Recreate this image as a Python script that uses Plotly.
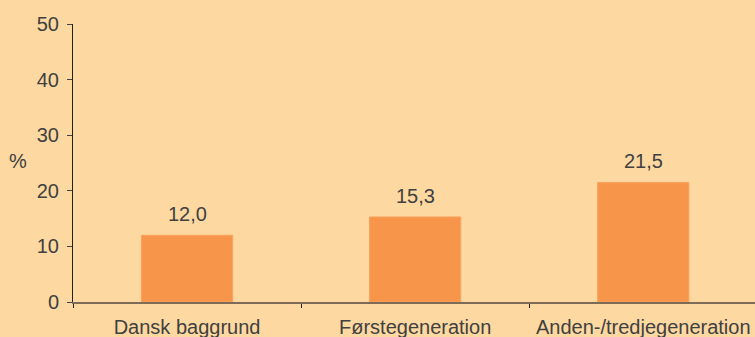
import plotly.graph_objects as go

categories = ["Dansk baggrund", "Førstegeneration", "Anden-/tredjegeneration"]
values = [12.0, 15.3, 21.5]
value_labels = ["12,0", "15,3", "21,5"]
y_ticks = [0, 10, 20, 30, 40, 50]

BG = "#FDD9A1"
BAR = "#F7954A"
TXT = "#404040"
FONT = "Liberation Sans, Arial, sans-serif"
FS = 20

fig = go.Figure()
fig.add_trace(go.Bar(
    x=categories, y=values, width=0.4,
    marker=dict(color=BAR, line=dict(color="#F9A35E", width=1)),
    hoverinfo="skip",
))

for c, v, t in zip(categories, values, value_labels):
    fig.add_annotation(x=c, y=v, text=t, showarrow=False, yanchor="bottom",
                       yshift=8, font=dict(family=FONT, size=FS, color=TXT))

fig.add_annotation(xref="paper", yref="y", x=-0.0806, y=25.3, text="%", showarrow=False,
                   xanchor="center", yanchor="middle",
                   font=dict(family=FONT, size=FS, color=TXT))

fig.update_layout(
    width=755, height=337,
    margin=dict(l=73, r=0, t=24, b=35, autoexpand=False),
    paper_bgcolor=BG, plot_bgcolor=BG,
    showlegend=False,
    font=dict(family=FONT, size=FS, color=TXT),
    bargap=0.6,
)
fig.update_xaxes(
    type="category", range=[-0.5, 2.49], automargin=False,
    tickson="boundaries", ticks="outside", ticklen=4, tickcolor="#222", tickwidth=1,
    ticklabelstandoff=6,
    showline=True, linecolor="#7d6a57", linewidth=2,
    showgrid=False, zeroline=False,
    tickfont=dict(family=FONT, size=FS, color=TXT),
)
fig.update_yaxes(
    range=[0, 50], tickvals=y_ticks, ticktext=[str(v) for v in y_ticks],
    automargin=False,
    ticks="outside", ticklen=5, tickcolor="#444", tickwidth=1,
    ticklabelstandoff=4,
    showline=True, linecolor="#222", linewidth=1,
    showgrid=False, zeroline=False,
    tickfont=dict(family=FONT, size=FS, color=TXT),
)

fig.write_html(
    "out.html",
    config={"displayModeBar": False},
    post_script="document.body.style.margin='0';document.body.style.overflow='hidden';"
                "document.body.style.background='" + BG + "';",
)
